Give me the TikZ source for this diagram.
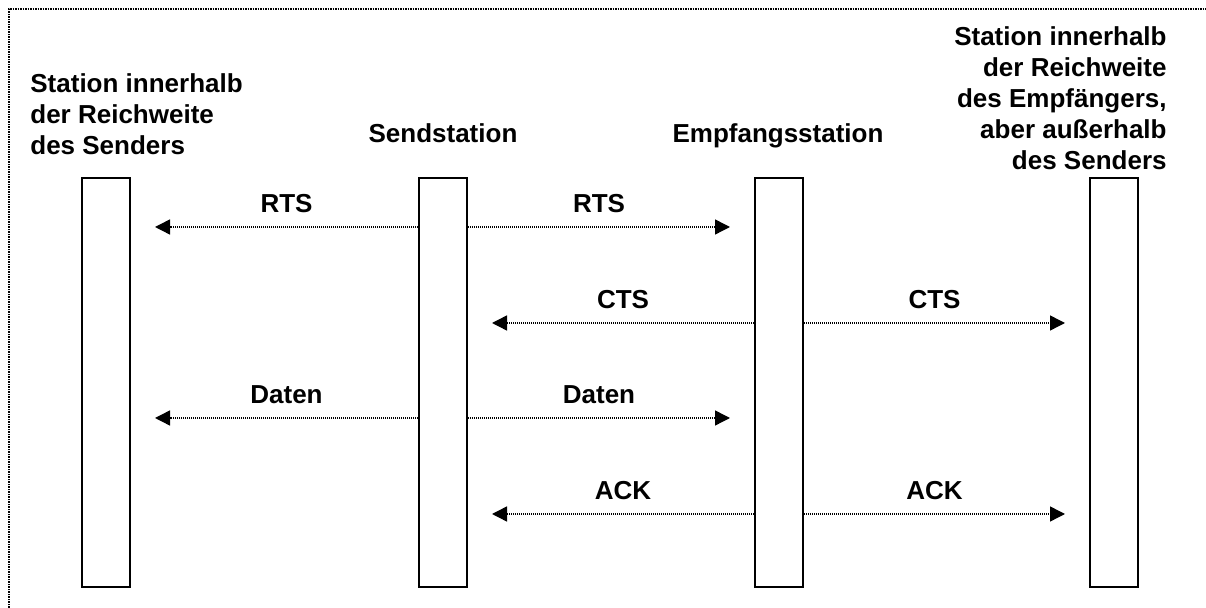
\documentclass[tikz,border=0pt]{standalone}
\usepackage{fontspec}
\setmainfont{Liberation Sans}
\usetikzlibrary{arrows.meta}
\begin{document}
\begin{tikzpicture}[x=0.5pt,y=-0.5pt]
	\tikzstyle{station}=[draw,line width=1pt,minimum width=24pt,minimum height=204.5pt,inner sep=0pt];
	\tikzstyle{msg}=[line width=0.7pt,dash pattern=on 0.5pt off 0.5pt,-{Triangle[length=7.5pt,width=7.5pt]}];
	\tikzstyle{lbl}=[font=\fontsize{13}{15.5}\selectfont\bfseries,inner sep=0pt];
	\useasboundingbox (0,0) rectangle (1206,608);
	\draw[line width=0.75pt,dash pattern=on 0.75pt off 0.5pt] (9,608) -- (9,9) -- (1206,9);
	% die vier Stationen
	\node[station] (nah) at (106,382.5) {};
	\node[station] (send) at (443,382.5) {};
	\node[station] (empf) at (779,382.5) {};
	\node[station] (fern) at (1114,382.5) {};
	\node[lbl,anchor=north west,align=left] (nahtxt) at (30,73.4) {Station innerhalb\\der Reichweite\\des Senders};
	\node[lbl,anchor=base] (sendtxt) at (443,143) {Sendstation};
	\node[lbl,anchor=base] (empftxt) at (778,143) {Empfangsstation};
	\node[lbl,anchor=north east,align=right] (ferntxt) at (1167,26.4) {Station innerhalb\\der Reichweite\\des Empfängers,\\aber außerhalb\\des Senders};
	% Pfeilspitzen
	\coordinate (rtsA) at (155,227);
	\coordinate (rtsB) at (730,227);
	\coordinate (ctsA) at (492,323);
	\coordinate (ctsB) at (1065,323);
	\coordinate (datA) at (155,418);
	\coordinate (datB) at (730,418);
	\coordinate (ackA) at (492,514);
	\coordinate (ackB) at (1065,514);
	\draw[msg] (send.west |- rtsA) -- (rtsA) node[lbl,midway,anchor=base,yshift=7pt] {RTS};
	\draw[msg] (send.east |- rtsB) -- (rtsB) node[lbl,midway,anchor=base,yshift=7pt] {RTS};
	\draw[msg] (empf.west |- ctsA) -- (ctsA) node[lbl,midway,anchor=base,yshift=7pt] {CTS};
	\draw[msg] (empf.east |- ctsB) -- (ctsB) node[lbl,midway,anchor=base,yshift=7pt] {CTS};
	\draw[msg] (send.west |- datA) -- (datA) node[lbl,midway,anchor=base,yshift=7pt] {Daten};
	\draw[msg] (send.east |- datB) -- (datB) node[lbl,midway,anchor=base,yshift=7pt] {Daten};
	\draw[msg] (empf.west |- ackA) -- (ackA) node[lbl,midway,anchor=base,yshift=7pt] {ACK};
	\draw[msg] (empf.east |- ackB) -- (ackB) node[lbl,midway,anchor=base,yshift=7pt] {ACK};
\end{tikzpicture}
\end{document}
